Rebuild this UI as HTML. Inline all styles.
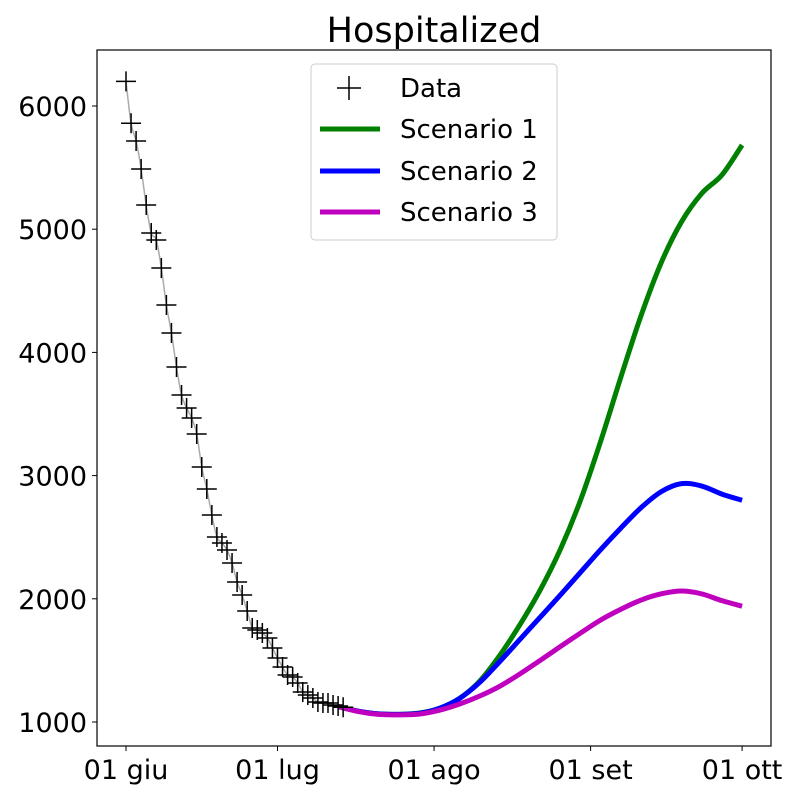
<!DOCTYPE html>
<html><head><meta charset="utf-8"><style>
body{margin:0;background:#fff;font-family:"DejaVu Sans",sans-serif}
</style></head><body>
<svg id="chart" width="800" height="800" xmlns="http://www.w3.org/2000/svg" font-family="DejaVu Sans, sans-serif">
<text x="434" y="42" font-size="35" text-anchor="middle">Hospitalized</text>
<g id="plot"></g>
<rect x="97" y="50" width="674" height="696" fill="none" stroke="#000" stroke-width="1.2"/>
<g>
<rect x="311" y="64" width="246" height="176" rx="4" fill="#fff" fill-opacity="0.8" stroke="#ccc"/>
<g><path d="M337 88h24M349 76v24" stroke="#000" stroke-width="1.5"/><text x="400" y="97" font-size="26">Data</text></g>
<g><path d="M320 129h60" stroke="#008000" stroke-width="5"/><text x="400" y="138" font-size="26">Scenario 1</text></g>
<g><path d="M320 171h60" stroke="#0000ff" stroke-width="5"/><text x="400" y="180" font-size="26">Scenario 2</text></g>
<g><path d="M320 212h60" stroke="#bf00bf" stroke-width="5"/><text x="400" y="221" font-size="26">Scenario 3</text></g>
</g>
</svg>
<script>
const dataValues=[6200,5860,5716,5489,5196,4969,4912,4685,4385,4157,3881,3654,3549,3468,3338,3070,2891,2680,2502,2453,2396,2291,2136,2031,1901,1763,1747,1722,1682,1601,1519,1446,1381,1365,1317,1244,1219,1195,1162,1154,1154,1138,1130,1120];
const scenDays=[42,46,50,54,58,62,66,70,74,78,82,86,90,94,98,102,106,110,114,118,122];
const scen1=[1125,1088,1066,1062,1072,1110,1190,1330,1540,1790,2070,2400,2800,3280,3800,4300,4730,5060,5290,5440,5683];
const scen2=[1125,1088,1066,1062,1070,1110,1190,1320,1490,1670,1850,2030,2215,2400,2575,2740,2870,2935,2915,2850,2800];
const scen3=[1125,1085,1062,1058,1064,1095,1145,1210,1290,1390,1500,1612,1722,1828,1915,1990,2040,2063,2040,1985,1940];
const yTicks=[1000,2000,3000,4000,5000,6000];
const xTickDays=[0,30,61,92,122];
const xTickLabels=["01 giu","01 lug","01 ago","01 set","01 ott"];
const X=d=>126+d*5.05;
const Y=v=>722-(v-1000)*0.1232;
const NS="http://www.w3.org/2000/svg";
const plot=document.getElementById('plot');
function mk(tag,attrs,parent){const e=document.createElementNS(NS,tag);for(const k in attrs)e.setAttribute(k,attrs[k]);(parent||plot).appendChild(e);return e;}
function smooth(pts){let d=`M${pts[0][0]} ${pts[0][1]}`;for(let i=0;i<pts.length-1;i++){const p0=pts[Math.max(0,i-1)],p1=pts[i],p2=pts[i+1],p3=pts[Math.min(pts.length-1,i+2)];d+=` C${p1[0]+(p2[0]-p0[0])/6} ${p1[1]+(p2[1]-p0[1])/6} ${p2[0]-(p3[0]-p1[0])/6} ${p2[1]-(p3[1]-p1[1])/6} ${p2[0]} ${p2[1]}`;}return d;}
yTicks.forEach(v=>{
 const t=mk('line',{x1:92,x2:97,y1:Y(v),y2:Y(v),stroke:'#000'});
 
 
 const l=mk('text',{x:87,y:Y(v)+10,'font-size':27,'text-anchor':'end'});
 l.textContent=v;
 
 
});
xTickDays.forEach((d,i)=>{
 const t=mk('line',{x1:X(d),x2:X(d),y1:746,y2:751,stroke:'#000'});
 
 
 const l=mk('text',{x:X(d),y:779,'font-size':27,'text-anchor':'middle'});
 l.textContent=xTickLabels[i];
 
 
});
const fit=mk('path',{d:smooth(dataValues.map((v,i)=>[X(i),Y(v)])),fill:'none',stroke:'#aaa','stroke-width':1.5});


[[scen1,'#008000','scenario-1-line'],[scen2,'#0000ff','scenario-2-line'],[scen3,'#bf00bf','scenario-3-line']].forEach(([s,c,n])=>{
 const p=mk('path',{d:smooth(s.map((v,i)=>[X(scenDays[i]),Y(v)])),fill:'none',stroke:c,'stroke-width':5,'stroke-linejoin':'round'});
 
 
});
dataValues.forEach((v,i)=>{
 const x=X(i),y=Y(v);
 const m=mk('path',{d:`M${x-10} ${y}h20M${x} ${y-10}v20`,stroke:'#000','stroke-width':1.5});
 
 
});
</script>
</body></html>
